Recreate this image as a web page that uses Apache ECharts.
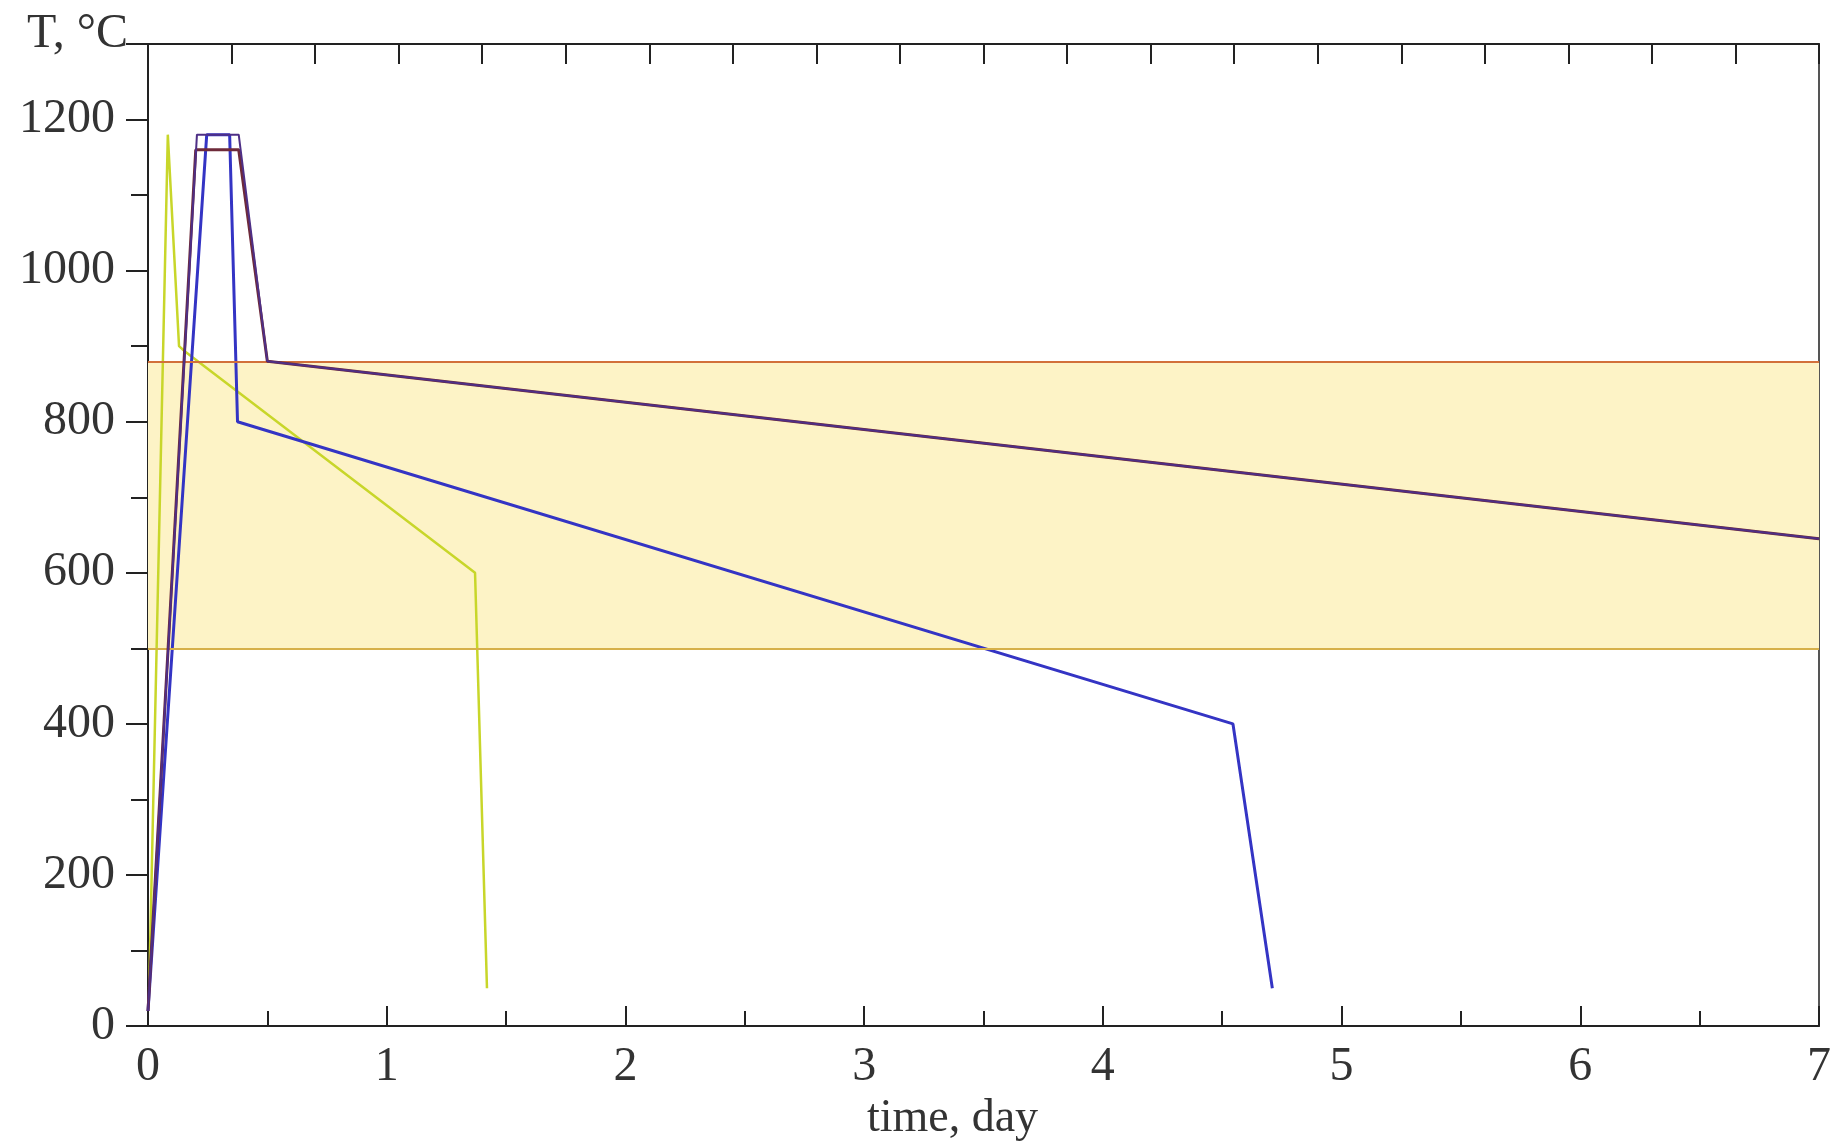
<!DOCTYPE html>
<html>
<head>
<meta charset="utf-8">
<script src="https://cdn.jsdelivr.net/npm/echarts@6/dist/echarts.min.js"></script>
<style>
html,body{margin:0;padding:0;background:#fff;}
#chart{width:1834px;height:1147px;}
</style>
</head>
<body>
<div id="chart"></div>
<script>
// ---- data ----
const xTicks = [0, 1, 2, 3, 4, 5, 6, 7];
const yTicks = [0, 200, 400, 600, 800, 1000, 1200];
const bandLow = 500;
const bandHigh = 880;

const yellowTime = [0.005, 0.083, 0.13, 0.155, 1.37, 1.42];
const yellowTemp = [50, 1180, 900, 893, 600, 50];

const blueTime = [0, 0.246, 0.342, 0.375, 4.545, 4.71];
const blueTemp = [20, 1180, 1180, 800, 400, 50];

const purpleTime = [0, 0.205, 0.38, 0.5, 7];
const purpleTemp = [20, 1180, 1180, 880, 645];

const brownTime = [0, 0.2, 0.38, 0.5, 7];
const brownTemp = [20, 1160, 1160, 880, 645];

const zip = (t, v) => t.map((x, i) => [x, v[i]]);

const FONT = '"Liberation Serif", "DejaVu Serif", serif';
const AX = '#222';
const TXT = '#333';

const chart = echarts.init(document.getElementById('chart'));
chart.setOption({
  backgroundColor: '#fff',
  animation: false,
  grid: { left: 148, right: 8, top: 44, bottom: 109 },
  xAxis: [
    {
      type: 'value', min: xTicks[0], max: xTicks[xTicks.length - 1], interval: 1,
      position: 'bottom',
      name: 'time, day', nameLocation: 'middle', nameGap: 85,
      nameTextStyle: { fontFamily: FONT, fontSize: 46, color: TXT, verticalAlign: 'middle', padding: [0, 62, 0, 0] },
      axisLine: { show: true, onZero: false, lineStyle: { color: AX, width: 2 } },
      axisTick: { show: true, inside: true, length: 20, lineStyle: { color: AX, width: 2 } },
      minorTick: { show: true, splitNumber: 2, length: 15, lineStyle: { color: AX, width: 2 } },
      axisLabel: { fontFamily: FONT, fontSize: 48, color: TXT, margin: 17 },
      splitLine: { show: false }
    },
    {
      type: 'value', min: 0, max: 20, interval: 1, position: 'top',
      axisLine: { show: true, onZero: false, lineStyle: { color: AX, width: 2 } },
      axisTick: { show: true, inside: true, length: 20, lineStyle: { color: AX, width: 2 } },
      axisLabel: { show: false },
      splitLine: { show: false }
    }
  ],
  yAxis: [
    {
      type: 'value', min: 0, max: 1300, interval: 200, position: 'left',
      name: 'T, °C', nameLocation: 'end', nameGap: 10,
      nameTextStyle: { fontFamily: FONT, fontSize: 48, color: TXT, align: 'right', verticalAlign: 'middle', padding: [0, 20, 0, 0] },
      axisLine: { show: true, onZero: false, lineStyle: { color: AX, width: 2 } },
      axisTick: { show: true, inside: false, length: 22, lineStyle: { color: AX, width: 2 } },
      minorTick: { show: true, splitNumber: 2, length: 17, lineStyle: { color: AX, width: 2 } },
      axisLabel: {
        fontFamily: FONT, fontSize: 48, color: TXT, margin: 33,
        formatter: v => (yTicks.indexOf(v) >= 0 ? String(v) : '')
      },
      splitLine: { show: false }
    },
    {
      type: 'value', min: 0, max: 1300, position: 'right',
      axisLine: { show: true, onZero: false, lineStyle: { color: '#555', width: 2 } },
      axisTick: { show: false }, axisLabel: { show: false }, splitLine: { show: false }
    }
  ],
  series: [
    {
      type: 'line', name: 'band', data: [], xAxisIndex: 0, yAxisIndex: 0, z: 1,
      markArea: {
        silent: true,
        itemStyle: { color: '#fdf3c6' },
        data: [[{ yAxis: bandLow }, { yAxis: bandHigh }]]
      },
      markLine: {
        silent: true, symbol: 'none', label: { show: false },
        data: [
          { yAxis: bandHigh, lineStyle: { color: '#d2703a', width: 2, type: 'solid' } },
          { yAxis: bandLow, lineStyle: { color: '#d6b04a', width: 2, type: 'solid' } }
        ]
      }
    },
    {
      type: 'line', name: 'yellow', data: zip(yellowTime, yellowTemp), showSymbol: false, z: 3,
      lineStyle: { color: '#c8d62a', width: 2.5 }
    },
    {
      type: 'line', name: 'blue', data: zip(blueTime, blueTemp), showSymbol: false, z: 4,
      lineStyle: { color: '#3434c4', width: 3 }
    },
    {
      type: 'line', name: 'brown', data: zip(brownTime, brownTemp), showSymbol: false, z: 5,
      lineStyle: { color: '#6e2a3a', width: 3 }
    },
    {
      type: 'line', name: 'purple', data: zip(purpleTime, purpleTemp), showSymbol: false, z: 5,
      lineStyle: { color: '#4e2f86', width: 2 }
    }
  ]
});
</script>
</body>
</html>
